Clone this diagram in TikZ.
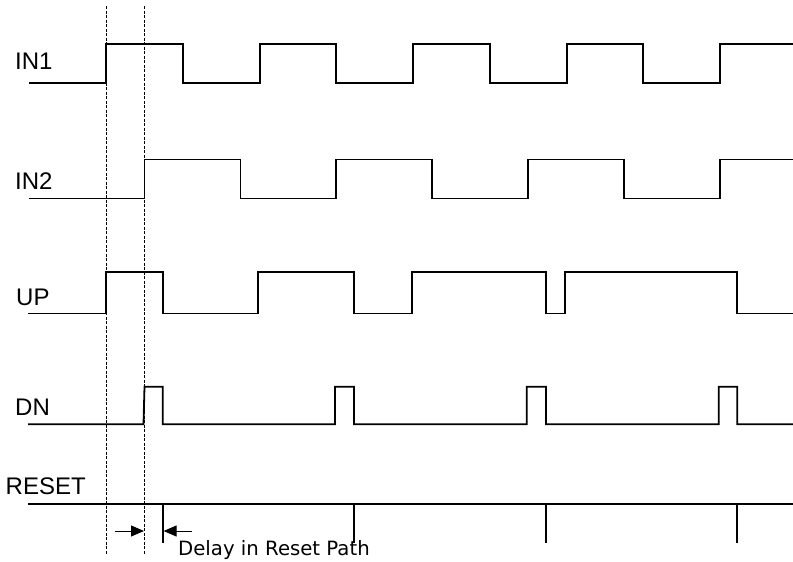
\documentclass[tikz,border=0pt]{standalone}
\usepackage{fontspec}
\setmainfont{Liberation Sans}
\newfontfamily\delayfont{DejaVu Sans}
\usetikzlibrary{arrows.meta}
\begin{document}
\begin{tikzpicture}[x=1pt,y=-1pt,
  sig/.style={line width=1.8pt, line join=miter},
  guide/.style={line width=0.8pt, dash pattern=on 3pt off 1.5pt},
  lbl/.style={anchor=base west, inner sep=0pt, font=\fontsize{24}{24}\selectfont},
  dly/.style={-{Triangle[length=13pt,width=11pt]}, line width=1pt}]
\useasboundingbox (0,0) rectangle (793,562);
% guides
\draw[guide] (106,6) -- (106,555);
\draw[guide] (144.5,6) -- (144.5,555);
% labels
\node[lbl] (in1) at (15,69.5) {IN1};
\node[lbl] (in2) at (15,189) {IN2};
\node[lbl] (up) at (16,305) {UP};
\node[lbl] (dn) at (15,415) {DN};
\node[lbl] (rst) at (5.5,494) {RESET};
% IN1
\draw[sig] (29,83) -- (106,83) -- (106,44) -- (183,44) -- (183,83) -- (260,83) -- (260,44) -- (336,44) -- (336,83) -- (413,83) -- (413,44) -- (490,44) -- (490,83) -- (567,83) -- (567,44) -- (643,44) -- (643,83) -- (720,83) -- (720,44) -- (793,44);
% IN2
\draw[sig] (29,198.5) -- (144.5,198.5) -- (144.5,159.5) -- (240.5,159.5) -- (240.5,198.5) -- (336,198.5) -- (336,159.5) -- (432,159.5) -- (432,198.5) -- (528,198.5) -- (528,159.5) -- (624,159.5) -- (624,198.5) -- (720,198.5) -- (720,159.5) -- (793,159.5);
% UP
\draw[sig] (28,313.5) -- (106,313.5) -- (106,271.7) -- (162.7,271.7) -- (162.7,313.5) -- (258.3,313.5) -- (258.3,271.7) -- (354,271.7) -- (354,313.5) -- (411.7,313.5) -- (411.7,271.7) -- (546,271.7) -- (546,313.5) -- (565,313.5) -- (565,271.7) -- (737.3,271.7) -- (737.3,313.5) -- (793,313.5);
% DN
\draw[sig] (28,424.3) -- (143.5,424.3) -- (144.5,386.7) -- (162.7,386.7) -- (162.7,424.3) -- (335,424.3) -- (335,386.7) -- (354,386.7) -- (354,424.3) -- (526.7,424.3) -- (526.7,386.7) -- (546,386.7) -- (546,424.3) -- (718.7,424.3) -- (718.7,386.7) -- (737.3,386.7) -- (737.3,424.3) -- (793,424.3);
% RESET
\draw[sig] (28,504.3) -- (793,504.3);
\foreach \t in {162.7,354,546,737.3} \draw[sig] (\t,504.3) -- (\t,543);
% delay arrows
\coordinate (a1s) at (115,531);
\coordinate (a1e) at (144,531);
\coordinate (a2s) at (192,531);
\coordinate (a2e) at (163.6,531);
\draw[dly] (a1s) -- (a1e);
\draw[dly] (a2s) -- (a2e);
\node[anchor=base west, inner sep=0pt, font=\delayfont\fontsize{19.7}{20}\selectfont] (delay) at (178,555) {Delay in Reset Path};
\end{tikzpicture}
\end{document}
